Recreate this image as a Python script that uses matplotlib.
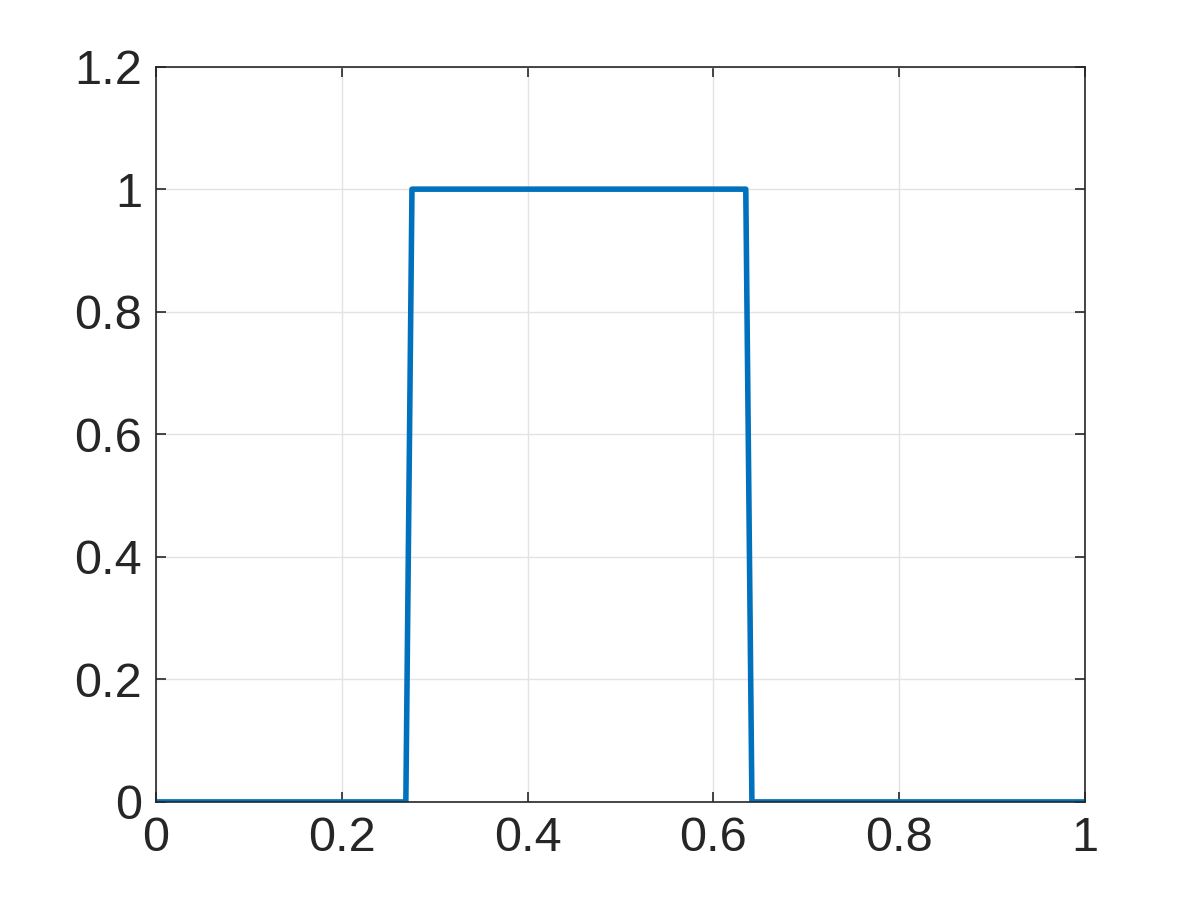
import matplotlib
matplotlib.use("Agg")
import matplotlib.pyplot as plt

# step function samples
x_vals = [0.0, 0.269, 0.2756, 0.635, 0.6416, 1.0]
y_vals = [0.0, 0.0, 1.0, 1.0, 0.0, 0.0]

x_ticks = [0, 0.2, 0.4, 0.6, 0.8, 1.0]
x_labels = ["0", "0.2", "0.4", "0.6", "0.8", "1"]
y_ticks = [0, 0.2, 0.4, 0.6, 0.8, 1.0, 1.2]
y_labels = ["0", "0.2", "0.4", "0.6", "0.8", "1", "1.2"]

plt.rcParams["font.family"] = ["Liberation Sans", "DejaVu Sans"]

fig = plt.figure(figsize=(12, 9), dpi=100)
ax = fig.add_axes([0.13, 0.109, 0.774, 0.817])

ax.plot(x_vals, y_vals, color="#0072BD", linewidth=4.0, solid_joinstyle="round")

ax.set_xlim(0, 1)
ax.set_ylim(0, 1.2)
ax.set_xticks(x_ticks)
ax.set_xticklabels(x_labels)
ax.set_yticks(y_ticks)
ax.set_yticklabels(y_labels)

ax.grid(True, color="#e3e3e3", linewidth=1.0)
ax.set_axisbelow(True)
ax.tick_params(direction="in", length=7, width=1.2, top=True, right=True,
               labelsize=35, colors="#262626", pad=10)
for s in ax.spines.values():
    s.set_color("#262626")
    s.set_linewidth(1.2)

fig.savefig("out.png", dpi=100)
plt.close(fig)
